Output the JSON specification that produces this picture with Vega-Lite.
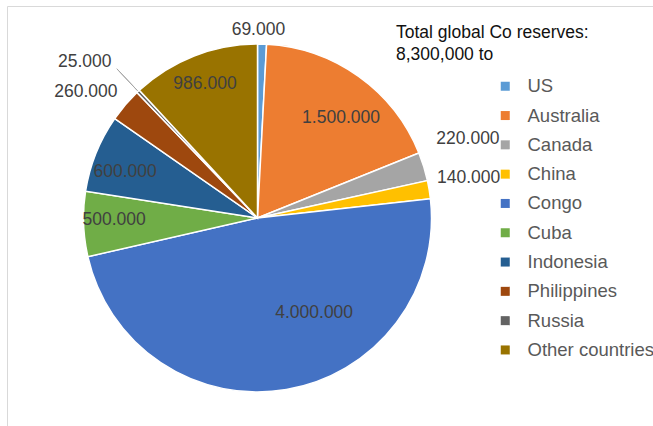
{
  "$schema": "https://vega.github.io/schema/vega-lite/v6.json",
  "width": 647,
  "height": 421,
  "autosize": {"type": "none"},
  "padding": {"left": 7, "top": 6, "right": 0, "bottom": 0},
  "background": "white",
  "view": {"stroke": "#d9d9d9", "strokeWidth": 1},
  "title": {
    "text": ["Total global Co reserves:", "8,300,000 to"],
    "anchor": "start",
    "frame": "group",
    "orient": "top",
    "offset": 0,
    "dx": 389,
    "dy": 92,
    "baseline": "top",
    "lineHeight": 22,
    "font": "Liberation Sans",
    "fontSize": 17.5,
    "fontWeight": "normal",
    "color": "#111111"
  },
  "config": {
    "locale": {"number": {"decimal": ",", "thousands": ".", "grouping": [3], "currency": ["", ""]}},
    "text": {"font": "Liberation Sans", "fontSize": 17.5, "color": "#404040"}
  },
  "data": {
    "values": [
      {"i": 1, "country": "US", "v": 69000},
      {"i": 2, "country": "Australia", "v": 1500000},
      {"i": 3, "country": "Canada", "v": 220000},
      {"i": 4, "country": "China", "v": 140000},
      {"i": 5, "country": "Congo", "v": 4000000},
      {"i": 6, "country": "Cuba", "v": 500000},
      {"i": 7, "country": "Indonesia", "v": 600000},
      {"i": 8, "country": "Philippines", "v": 260000},
      {"i": 9, "country": "Russia", "v": 25000},
      {"i": 10, "country": "Other countries", "v": 986000}
    ]
  },
  "encoding": {
    "theta": {"field": "v", "type": "quantitative", "stack": true},
    "order": {"field": "i", "type": "quantitative"}
  },
  "layer": [
    {
      "mark": {"type": "arc", "outerRadius": 174, "stroke": "white", "strokeWidth": 1.5, "x": 250.5, "y": 212},
      "encoding": {
        "color": {
          "field": "country",
          "type": "nominal",
          "scale": {
            "domain": ["US", "Australia", "Canada", "China", "Congo", "Cuba", "Indonesia", "Philippines", "Russia", "Other countries"],
            "range": ["#5B9BD5", "#ED7D31", "#A5A5A5", "#FFC000", "#4472C4", "#70AD47", "#255E91", "#9E480E", "#636363", "#997300"]
          },
          "legend": {
            "title": null,
            "orient": "none",
            "legendX": 489,
            "legendY": 71,
            "padding": 0,
            "symbolType": "square",
            "symbolSize": 81,
            "symbolStrokeWidth": 0,
            "labelFont": "Liberation Sans",
            "labelFontSize": 18.5,
            "labelColor": "#595959",
            "labelOffset": 13,
            "rowPadding": 10.3,
            "labelLimit": 300
          }
        }
      }
    },
    {
      "mark": {"type": "arc", "innerRadius": 175, "outerRadius": 205, "padAngle": 0.06, "fillOpacity": 0, "stroke": "#a6a6a6", "strokeWidth": 1, "x": 250.5, "y": 212},
      "encoding": {
        "detail": {"field": "country"},
        "strokeOpacity": {"condition": {"test": "datum.country === 'Russia'", "value": 1}, "value": 0}
      }
    },
    {
      "mark": {"type": "text", "radius": 188, "dx": -4, "dy": 0, "x": 250.5, "y": 212},
      "encoding": {"detail": {"field": "country"}, "text": {"condition": {"test": "datum.country === 'US'", "field": "v", "type": "quantitative", "format": ",d"}, "value": ""}}
    },
    {
      "mark": {"type": "text", "radius": 130, "dx": 8, "dy": 6, "x": 250.5, "y": 212},
      "encoding": {"detail": {"field": "country"}, "text": {"condition": {"test": "datum.country === 'Australia'", "field": "v", "type": "quantitative", "format": ",d"}, "value": ""}}
    },
    {
      "mark": {"type": "text", "radius": 225, "dx": -4.5, "dy": -12.5, "x": 250.5, "y": 212},
      "encoding": {"detail": {"field": "country"}, "text": {"condition": {"test": "datum.country === 'Canada'", "field": "v", "type": "quantitative", "format": ",d"}, "value": ""}}
    },
    {
      "mark": {"type": "text", "radius": 214, "dx": 0, "dy": -5, "x": 250.5, "y": 212},
      "encoding": {"detail": {"field": "country"}, "text": {"condition": {"test": "datum.country === 'China'", "field": "v", "type": "quantitative", "format": ",d"}, "value": ""}}
    },
    {
      "mark": {"type": "text", "radius": 100, "dx": 40, "dy": -4, "x": 250.5, "y": 212},
      "encoding": {"detail": {"field": "country"}, "text": {"condition": {"test": "datum.country === 'Congo'", "field": "v", "type": "quantitative", "format": ",d"}, "value": ""}}
    },
    {
      "mark": {"type": "text", "radius": 143.5, "dx": 0, "dy": -3, "x": 250.5, "y": 212},
      "encoding": {"detail": {"field": "country"}, "text": {"condition": {"test": "datum.country === 'Cuba'", "field": "v", "type": "quantitative", "format": ",d"}, "value": ""}}
    },
    {
      "mark": {"type": "text", "radius": 140, "dx": -2.5, "dy": 6, "x": 250.5, "y": 212},
      "encoding": {"detail": {"field": "country"}, "text": {"condition": {"test": "datum.country === 'Indonesia'", "field": "v", "type": "quantitative", "format": ",d"}, "value": ""}}
    },
    {
      "mark": {"type": "text", "radius": 210, "dx": -12, "dy": 10, "x": 250.5, "y": 212},
      "encoding": {"detail": {"field": "country"}, "text": {"condition": {"test": "datum.country === 'Philippines'", "field": "v", "type": "quantitative", "format": ",d"}, "value": ""}}
    },
    {
      "mark": {"type": "text", "radius": 230, "dx": -15, "dy": 11, "x": 250.5, "y": 212},
      "encoding": {"detail": {"field": "country"}, "text": {"condition": {"test": "datum.country === 'Russia'", "field": "v", "type": "quantitative", "format": ",d"}, "value": ""}}
    },
    {
      "mark": {"type": "text", "radius": 144, "dx": 0, "dy": 0, "x": 250.5, "y": 212},
      "encoding": {"detail": {"field": "country"}, "text": {"condition": {"test": "datum.country === 'Other countries'", "field": "v", "type": "quantitative", "format": ",d"}, "value": ""}}
    }
  ]
}
